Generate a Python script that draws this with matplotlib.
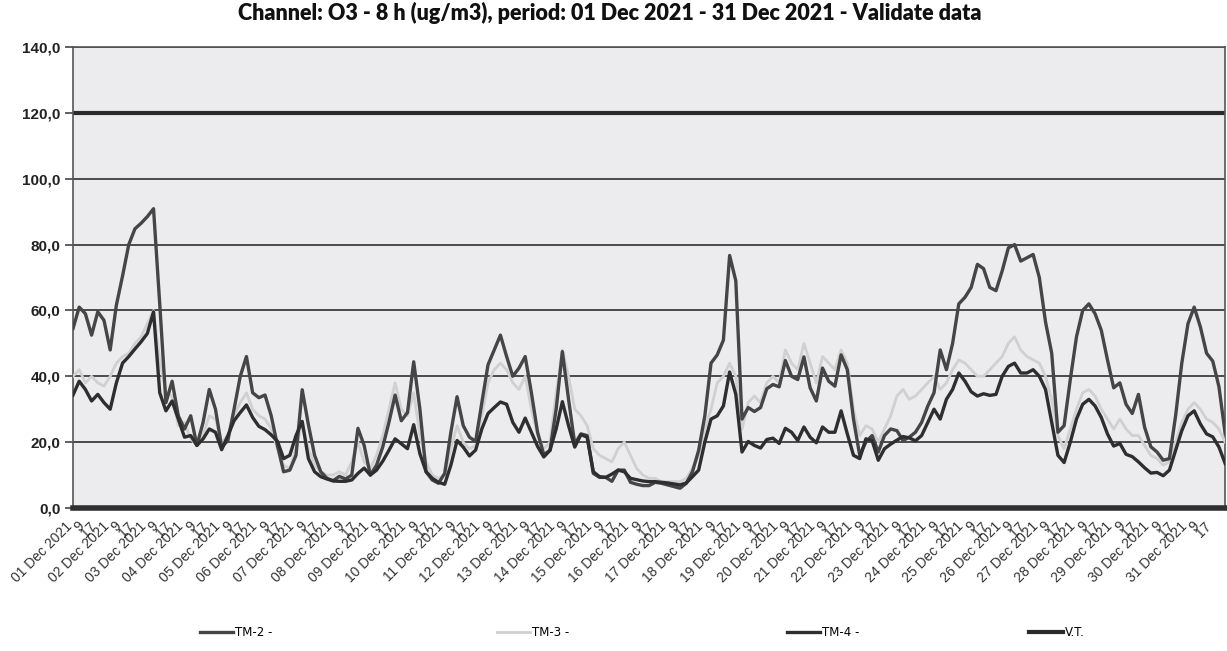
import matplotlib.pyplot as plt
import numpy as np

# O3 8h running mean, ug/m3, one value every 4 hours from 01 Dec 00h to 01 Jan 00h
hours = np.arange(0, 745, 4)

tm2 = [54.5, 61, 59, 52.5, 59.6, 57,
       48, 61.6, 70.5, 80, 84.8, 86.5,
       88.5, 90.9, 62, 32, 38.5, 28,
       24, 28, 19, 26, 36, 30,
       18.5, 20.5, 30, 40, 46, 35,
       33.5, 34.3, 28, 19, 11, 11.5,
       16, 35.9, 25.3, 16, 11, 9,
       8.3, 9.6, 8.8, 10, 24.2, 19,
       10, 13, 18.5, 26, 34.3, 26.5,
       29, 44.4, 30, 11, 8.5, 7.5,
       10.5, 23, 33.8, 25, 21.5, 20.2,
       32, 43.5, 48, 52.5, 46, 40,
       42.5, 46, 35, 23, 16.2, 17.5,
       30, 47.5, 33, 19.5, 22.5, 22,
       10.5, 9.3, 9.3, 8.1, 11.5, 11.5,
       7.8, 7.2, 6.8, 6.8, 7.8, 7.5,
       7, 6.5, 6, 7.5, 11, 17.5,
       28, 44, 46.5, 51, 76.7, 69,
       27, 30.5, 29.3, 30.5, 36.2, 37.5,
       36.8, 44.8, 40, 39, 45.9, 36.5,
       32.5, 42.5, 38.5, 37, 46.5, 42,
       27, 16, 20, 22, 17, 22,
       24, 23.5, 20.5, 21.5, 23, 26,
       31, 35, 48, 42, 50, 62,
       64, 67, 74, 72.7, 67, 66,
       72, 79, 80, 75, 76, 77,
       70, 56.5, 47, 23, 25, 39,
       52, 60, 62, 59, 54, 45,
       36.5, 38, 31.5, 28.7, 34.5, 24.5,
       18.6, 17, 14.5, 15, 28, 44,
       56, 61, 55, 47, 44.6, 36.8,
       22.6]

tm3 = [40, 42, 38, 40, 38, 37,
       40, 44, 46, 47, 50, 52,
       56, 60, 45, 35, 34, 25,
       26, 21, 19, 22, 28, 27,
       20, 22, 28, 32, 35, 30,
       28, 27, 24, 18, 13, 12,
       18, 26, 18, 13, 11, 10,
       10, 11, 10, 14, 20, 14,
       12, 16, 22, 30, 38, 30,
       28, 35, 22, 14, 10, 9,
       10, 18, 25, 20, 18, 19,
       28, 38, 42, 44, 42, 38,
       36, 40, 30, 22, 18, 20,
       35, 48, 40, 30, 28, 25,
       18, 16, 15, 14, 18, 20,
       16, 12, 10, 9, 9, 8,
       8, 8, 8, 9, 12, 16,
       24, 30, 38, 40, 44, 40,
       24, 32, 34, 32, 38, 40,
       38, 48, 44, 42, 50, 44,
       38, 46, 44, 42, 48, 44,
       30, 22, 25, 24, 20, 24,
       28, 34, 36, 33, 34, 36,
       38, 40, 36, 38, 42, 45,
       44, 42, 40, 40, 42, 44,
       46, 50, 52, 48, 46, 45,
       44, 40, 33, 22, 18, 24,
       30, 35, 36, 34, 30, 27,
       24, 27, 24, 22, 22, 19,
       16, 15, 13, 14, 20, 26,
       30, 32, 30, 27, 26, 24,
       20]

tm4 = [34.3, 38.5, 36, 32.5, 34.5, 32,
       30, 38, 44, 46, 48.3, 50.5,
       53, 59.6, 35, 29.5, 32.5, 27,
       21.5, 22, 19, 21, 24, 23,
       17.7, 22, 26.5, 29, 31.3, 27.5,
       24.8, 23.8, 22.2, 20.3, 15, 16,
       22, 26.3, 15, 11, 9.5, 8.8,
       8.2, 8.1, 8.1, 8.5, 10.5, 12.1,
       10, 11.5, 14.2, 17.5, 21, 19.5,
       18, 25.3, 16.5, 11, 9, 7.8,
       7.2, 13, 20.5, 18.5, 15.8, 17.6,
       24, 28.7, 30.5, 32.2, 31.5, 26,
       23, 27.3, 23, 18.7, 15.5, 17.5,
       24, 32.3, 25, 18.5, 22.3, 21.5,
       11, 9.5, 9.3, 10.3, 11.5, 11,
       9, 8.6, 8.2, 8, 8, 7.8,
       7.6, 7.3, 7, 7.6, 9.5, 11.5,
       20, 27, 28, 31, 41.3, 34.5,
       17, 20.2, 19, 18.2, 20.8, 21.2,
       19.6, 24.2, 23, 20.5, 24.6, 21.5,
       19.8, 24.6, 23, 23, 29.5, 22.5,
       16, 15, 21, 20.5, 14.5, 18,
       19.4, 20.6, 21.7, 21.3, 20.4, 22,
       26, 30, 27, 33, 36, 41,
       38.5, 35.3, 34, 34.7, 34.2, 34.5,
       40, 43, 44, 41, 41, 42,
       40, 36, 26, 16, 13.8, 20,
       27, 31.5, 33, 31, 27.5, 22.5,
       18.8, 19.6, 16.3, 15.6, 14, 12.2,
       10.6, 10.8, 9.8, 11.5, 17.5, 23.5,
       28, 29.5, 25.5, 22.5, 21.6, 18.5,
       13.5]

vt = 120  # limit value

days = [f"{d:02d} Dec 2021" for d in range(1, 32)]
tick_hours = []
tick_labels = []
for i, d in enumerate(days):
    for h, lab in [(1, d), (9, "9"), (17, "17")]:
        tick_hours.append(i * 24 + h)
        tick_labels.append(lab)

fig = plt.figure(figsize=(12.27, 6.51), dpi=100)
ax = fig.add_axes([0.0595, 0.2197, 0.939, 0.708])
ax.set_facecolor('#ececef')

ax.plot(hours, tm3, color='#d0d0d0', lw=2.0, label='TM-3 -', zorder=3)
ax.plot(hours, tm2, color='#454545', lw=2.4, label='TM-2 -', zorder=4)
ax.plot(hours, tm4, color='#2e2e2e', lw=2.4, label='TM-4 -', zorder=4)
ax.plot([0, 744], [vt, vt], color='#2a2a2a', lw=3.0, label='V.T.', zorder=2)

ax.set_xlim(0, 744)
ax.set_ylim(0, 140)
yt = np.arange(0, 141, 20)
ax.set_yticks(yt, [f"{v:.1f}".replace('.', ',') for v in yt],
              fontsize=11, fontweight='bold', family='Liberation Sans', color='#222222')
ax.tick_params(axis='y', length=6, width=1.2, color='#444444', pad=3)
ax.grid(axis='y', color='#4a4a4a', lw=1.4, zorder=1)
ax.set_axisbelow(True)

ax.set_xticks(tick_hours, tick_labels, rotation=45, ha='right',
              fontsize=10, family='Liberation Sans', color='#333333')
ax.tick_params(axis='x', length=0, pad=8)

for s in ['left', 'right', 'top']:
    ax.spines[s].set_color('#555555')
    ax.spines[s].set_linewidth(1.2)
ax.spines['bottom'].set_color('#303030')
ax.spines['bottom'].set_linewidth(4)

fig.suptitle("Channel: O3 - 8 h (ug/m3), period: 01 Dec 2021 - 31 Dec 2021 - Validate data",
             x=0.497, y=0.997, fontsize=15.5, fontweight='heavy', family='Lato', color='#111111')

# legend entries placed one by one along the bottom
h, l = ax.get_legend_handles_labels()
order = [1, 0, 2, 3]
leg_x = [0.163, 0.405, 0.641, 0.839]
for k, i in enumerate(order):
    lg = fig.legend([h[i]], [l[i]], loc='center left', bbox_to_anchor=(leg_x[k], 0.028),
                    frameon=False, borderpad=0, borderaxespad=0,
                    prop={'family': 'Liberation Sans Narrow', 'size': 8.5},
                    handlelength=2.8, handletextpad=0.2)

plt.savefig('out.png', dpi=100)
